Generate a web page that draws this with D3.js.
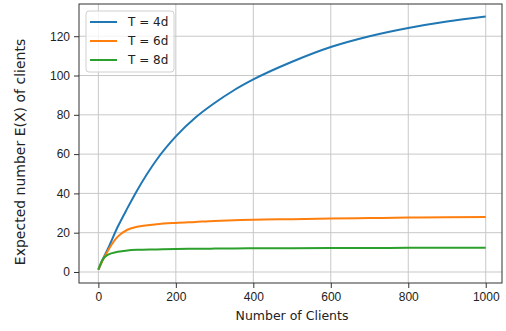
<!DOCTYPE html>
<html>
<head>
<meta charset="utf-8">
<script src="https://cdn.jsdelivr.net/npm/d3@7"></script>
<style>
  body { margin: 0; background: #fff; }
  svg { display: block; font-family: "DejaVu Sans", sans-serif; }
  .tick text { fill: #222; font-size: 12px; }
  .grid line { stroke: #c8c8c8; stroke-width: 1; }
</style>
</head>
<body>
<div id="chart"></div>
<script>
// values
var clients = [0, 10, 25, 50, 75, 100, 150, 200, 250, 300, 350, 400, 500, 600, 700, 800, 900, 1000];
var t4 = [1.2, 5.8, 12, 23, 32.5, 41.5, 57, 69, 78.5, 86, 92.5, 98, 107, 114.5, 120, 124.2, 127.5, 130];
var t6 = [1.2, 5.5, 11, 18, 21.5, 23, 24.3, 25, 25.5, 26, 26.3, 26.6, 26.9, 27.2, 27.45, 27.7, 27.85, 28];
var t8 = [1.2, 6, 8.8, 10.3, 11, 11.3, 11.5, 11.7, 11.8, 11.9, 12, 12.05, 12.1, 12.2, 12.25, 12.3, 12.35, 12.4];
var seriesNames = ['T = 4d', 'T = 6d', 'T = 8d'];
var seriesColors = ['#1f77b4', '#ff7f0e', '#2ca02c'];
var xTicks = [0, 200, 400, 600, 800, 1000];
var yTicks = [0, 20, 40, 60, 80, 100, 120];

var W = 506, H = 331;
var margin = {top: 4, right: 4, bottom: 48, left: 79};
var iw = W - margin.left - margin.right;
var ih = H - margin.top - margin.bottom;

var svg = d3.select('#chart').append('svg')
    .attr('width', W)
    .attr('height', H);

var g = svg.append('g')
    .attr('transform', `translate(${margin.left},${margin.top})`);

var x = d3.scaleLinear().domain([-50, 1042]).range([0, iw]);
var y = d3.scaleLinear().domain([-5.6, 136.4]).range([ih, 0]);

// grid
g.append('g').attr('class', 'grid')
    .selectAll('line.v').data(xTicks).enter().append('line')
    .attr('x1', (d) => x(d)).attr('x2', (d) => x(d))
    .attr('y1', 0).attr('y2', ih);
g.append('g').attr('class', 'grid')
    .selectAll('line.h').data(yTicks).enter().append('line')
    .attr('x1', 0).attr('x2', iw)
    .attr('y1', (d) => y(d)).attr('y2', (d) => y(d));

// axes
var xAxis = g.append('g')
    .attr('transform', `translate(0,${ih})`)
    .call(d3.axisBottom(x).tickValues(xTicks).tickFormat(d3.format('d')).tickSize(5).tickPadding(4));
var yAxis = g.append('g')
    .call(d3.axisLeft(y).tickValues(yTicks).tickFormat(d3.format('d')).tickSize(5).tickPadding(4));
[xAxis, yAxis].forEach(function (a) {
    a.select('.domain').remove();
    a.selectAll('.tick line').attr('stroke', '#333');
});

// frame
g.append('rect')
    .attr('x', 0).attr('y', 0)
    .attr('width', iw).attr('height', ih)
    .attr('fill', 'none')
    .attr('stroke', '#333')
    .attr('stroke-width', 1);

// lines
var line = d3.line()
    .x((d) => x(d[0]))
    .y((d) => y(d[1]))
    .curve(d3.curveMonotoneX);

[t4, t6, t8].forEach(function (vals, i) {
    g.append('path')
        .datum(clients.map((c, j) => [c, vals[j]]))
        .attr('fill', 'none')
        .attr('stroke', seriesColors[i])
        .attr('stroke-width', 2)
        .attr('d', line);
});

// labels
svg.append('text')
    .attr('x', 292)
    .attr('y', 320)
    .attr('text-anchor', 'middle')
    .style('font-size', '12.5px')
    .style('fill', '#222')
    .text('Number of Clients');

svg.append('text')
    .attr('transform', 'translate(25,152)rotate(-90)')
    .attr('text-anchor', 'middle')
    .style('font-size', '14px')
    .style('fill', '#222')
    .text('Expected number E(X) of clients');

// legend
var legend = svg.append('g').attr('transform', 'translate(86,11)');
legend.append('rect')
    .attr('width', 88).attr('height', 61)
    .attr('rx', 3)
    .attr('fill', '#fff')
    .attr('fill-opacity', 0.8)
    .attr('stroke', '#d0d0d0');
var items = legend.selectAll('g.item')
    .data(seriesNames)
    .enter()
    .append('g')
    .attr('transform', (d, i) => `translate(0,${11 + i * 19})`);
items.append('line')
    .attr('x1', 4).attr('x2', 31)
    .attr('stroke', (d, i) => seriesColors[i])
    .attr('stroke-width', 2);
items.append('text')
    .attr('x', 42)
    .attr('dy', '0.35em')
    .style('font-size', '12px')
    .style('fill', '#222')
    .text((d) => d);
</script>
</body>
</html>
